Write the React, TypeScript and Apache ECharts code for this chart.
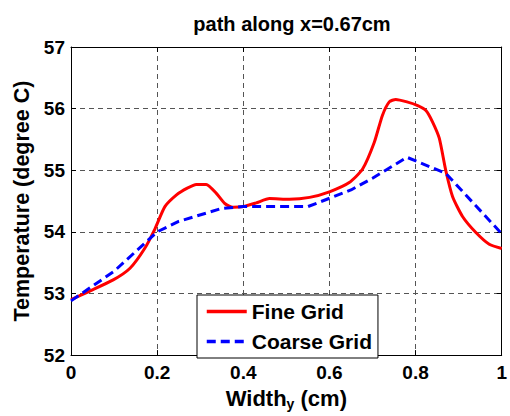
import React, { useEffect, useRef } from "react";
import * as echarts from "echarts";

const fineX = [0, 0.044, 0.098, 0.137, 0.171, 0.195, 0.218, 0.245, 0.27, 0.291, 0.314, 0.338, 0.357, 0.376, 0.4, 0.43, 0.461, 0.507, 0.554, 0.6, 0.646, 0.677, 0.704, 0.723, 0.739, 0.754, 0.78, 0.805, 0.824, 0.839, 0.855, 0.87, 0.886, 0.909, 0.94, 0.971, 1.0];
const fineY = [52.9, 53.04, 53.22, 53.41, 53.73, 54.05, 54.41, 54.6, 54.71, 54.77, 54.77, 54.62, 54.46, 54.4, 54.41, 54.47, 54.54, 54.53, 54.56, 54.65, 54.8, 55.02, 55.45, 55.89, 56.11, 56.15, 56.11, 56.05, 55.97, 55.79, 55.52, 55.0, 54.57, 54.25, 53.99, 53.8, 53.73];

const coarseX = [0, 0.1, 0.2, 0.25, 0.35, 0.4, 0.55, 0.65, 0.7, 0.78, 0.87, 1.0];
const coarseY = [52.88, 53.36, 54.0, 54.17, 54.38, 54.41, 54.41, 54.68, 54.87, 55.21, 54.95, 53.97];

const seriesNames = ["Fine Grid", "Coarse Grid"];
const titleText = "path along x=0.67cm";
const xName = "Width{sub|y} (cm)";
const yName = "Temperature (degree C)";

const FONT = "'Liberation Sans', Arial, sans-serif";

export default function App() {
  const ref = useRef<HTMLDivElement>(null);
  useEffect(() => {
    if (!ref.current) return;
    const chart = echarts.init(ref.current, undefined, { renderer: "svg" });
    const gridLine = { show: true, lineStyle: { color: "#555", width: 1, type: [5, 4] as any } };
    const tick = { show: true, inside: true, length: 5, lineStyle: { color: "#000", width: 1 } };
    const axisLine = { show: true, onZero: false, lineStyle: { color: "#000", width: 1 } };
    const labelStyle = { color: "#000", fontFamily: FONT, fontWeight: "bold" as const, fontSize: 19 };
    chart.setOption({
      animation: false,
      backgroundColor: "#fff",
      title: {
        text: titleText,
        left: 287,
        top: 9,
        textAlign: "center",
        textStyle: { color: "#000", fontFamily: FONT, fontWeight: "bold", fontSize: 20 },
      },
      grid: { left: 71, right: 7, top: 47, bottom: 54, containLabel: false },
      legend: {
        data: seriesNames,
        orient: "vertical",
        left: 197,
        top: 295,
        itemWidth: 40,
        itemHeight: 20,
        itemGap: 9,
        padding: [6, 6, 6, 8],
        backgroundColor: "#fff",
        borderColor: "#000",
        borderWidth: 1,
        borderRadius: 0,
        itemStyle: { opacity: 0 },
        lineStyle: { opacity: 1, width: 3.5, cap: "butt" },
        textStyle: { color: "#000", fontFamily: FONT, fontWeight: "bold", fontSize: 21, lineHeight: 20 },
      },
      xAxis: [
        {
          type: "value",
          min: 0,
          max: 1,
          interval: 0.2,
          name: xName,
          nameLocation: "middle",
          nameGap: 27,
          nameTextStyle: {
            color: "#000",
            fontFamily: FONT,
            fontWeight: "bold",
            fontSize: 22,
            rich: {
              sub: { fontFamily: FONT, fontWeight: "bold", fontSize: 14, color: "#000", padding: [12, 0, 0, 0] },
            },
          },
          axisLine,
          axisTick: tick,
          splitLine: gridLine,
          axisLabel: {
            ...labelStyle,
            margin: 8,
            formatter: (v: number) => (v === 0 ? "0" : v === 1 ? "1" : v.toFixed(1)),
          },
        },
        {
          type: "value",
          position: "top",
          min: 0,
          max: 1,
          interval: 0.2,
          axisLine,
          axisTick: tick,
          splitLine: { show: false },
          axisLabel: { show: false },
        },
      ],
      yAxis: [
        {
          type: "value",
          min: 52,
          max: 57,
          interval: 1,
          name: yName,
          nameLocation: "middle",
          nameGap: 37,
          nameTextStyle: { color: "#000", fontFamily: FONT, fontWeight: "bold", fontSize: 21.5 },
          axisLine,
          axisTick: tick,
          splitLine: gridLine,
          axisLabel: { ...labelStyle, margin: 6 },
        },
        {
          type: "value",
          position: "right",
          min: 52,
          max: 57,
          interval: 1,
          axisLine,
          axisTick: tick,
          splitLine: { show: false },
          axisLabel: { show: false },
        },
      ],
      series: [
        {
          name: seriesNames[0],
          type: "line",
          data: fineX.map((x, i) => [x, fineY[i]]),
          symbol: "none",
          smooth: 0.2,
          lineStyle: { color: "#ff0000", width: 3 },
          itemStyle: { color: "#ff0000" },
          z: 3,
        },
        {
          name: seriesNames[1],
          type: "line",
          data: coarseX.map((x, i) => [x, coarseY[i]]),
          symbol: "none",
          lineStyle: { color: "#0000ff", width: 3, type: [9, 5] as any, cap: "butt" },
          itemStyle: { color: "#0000ff" },
          z: 4,
        },
      ],
    });
    return () => chart.dispose();
  }, []);
  return (
    <div
      ref={ref}
      style={{ position: "fixed", left: 0, top: 0, width: 510, height: 416, background: "#fff" }}
    />
  );
}
